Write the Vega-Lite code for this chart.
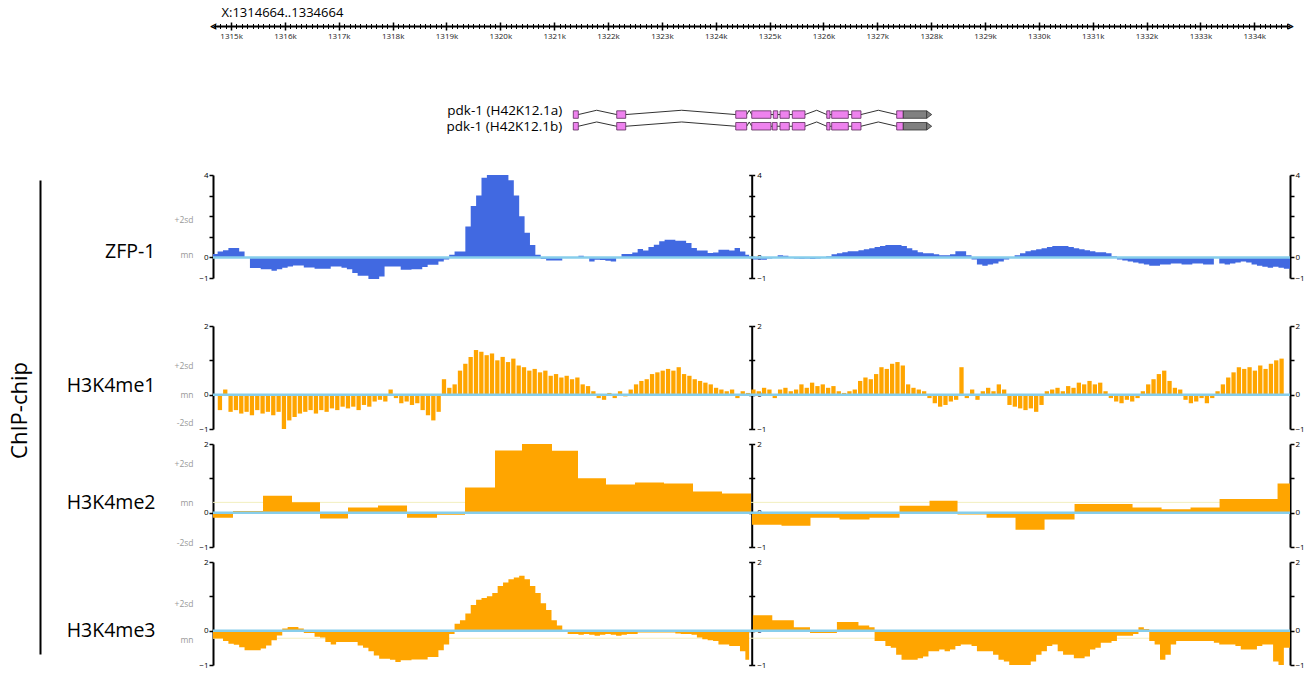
{
"$schema": "https://vega.github.io/schema/vega-lite/v6.json",
"padding": {"left": 8, "top": 6, "right": 5, "bottom": 5},
"autosize": {"type": "pad"},
"bounds": "flush",
"spacing": 15,
"config": {"view": {"stroke": null}, "font": "Open Sans", "axis": {"grid": false, "labelFont": "Open Sans", "titleFont": "Open Sans"}, "text": {"font": "Open Sans"}},
"datasets": {
"exons": [
{"tx":"a","s":1321.355,"e":1321.448},{"tx":"a","s":1322.161,"e":1322.328},{"tx":"a","s":1324.371,"e":1324.575},{"tx":"a","s":1324.668,"e":1325.026},{"tx":"a","s":1325.069,"e":1325.151},{"tx":"a","s":1325.193,"e":1325.366},{"tx":"a","s":1325.422,"e":1325.657},{"tx":"a","s":1326.061,"e":1326.122},{"tx":"a","s":1326.153,"e":1326.462},{"tx":"a","s":1326.525,"e":1326.697},{"tx":"a","s":1327.36,"e":1327.483},
{"tx":"b","s":1321.355,"e":1321.448},{"tx":"b","s":1322.161,"e":1322.328},{"tx":"b","s":1324.371,"e":1324.575},{"tx":"b","s":1324.668,"e":1325.026},{"tx":"b","s":1325.05,"e":1325.14},{"tx":"b","s":1325.193,"e":1325.366},{"tx":"b","s":1325.422,"e":1325.657},{"tx":"b","s":1326.061,"e":1326.122},{"tx":"b","s":1326.153,"e":1326.462},{"tx":"b","s":1326.525,"e":1326.697},{"tx":"b","s":1327.36,"e":1327.483}
],
"utr": [{"tx":"a","s":1327.483,"e":1327.917},{"tx":"b","s":1327.483,"e":1327.917}],
"tips": [{"tx":"a","pos":1327.964},{"tx":"b","pos":1327.964}],
"introns": [
{"tx":"a","s":1321.448,"p":1321.789,"e":1322.161},{"tx":"a","s":1322.328,"p":1323.368,"e":1324.371},{"tx":"a","s":1324.575,"p":1324.623,"e":1324.668},{"tx":"a","s":1325.657,"p":1325.875,"e":1326.061},{"tx":"a","s":1326.697,"p":1327.019,"e":1327.36},
{"tx":"b","s":1321.448,"p":1321.789,"e":1322.161},{"tx":"b","s":1322.328,"p":1323.368,"e":1324.371},{"tx":"b","s":1324.575,"p":1324.623,"e":1324.668},{"tx":"b","s":1325.657,"p":1325.875,"e":1326.061},{"tx":"b","s":1326.697,"p":1327.019,"e":1327.36}
],
"links": [
{"tx":"a","s":1325.026,"e":1325.069},{"tx":"a","s":1325.151,"e":1325.193},{"tx":"a","s":1325.366,"e":1325.422},{"tx":"a","s":1326.122,"e":1326.153},{"tx":"a","s":1326.462,"e":1326.525},
{"tx":"b","s":1325.026,"e":1325.05},{"tx":"b","s":1325.14,"e":1325.193},{"tx":"b","s":1325.366,"e":1325.422},{"tx":"b","s":1326.122,"e":1326.153},{"tx":"b","s":1326.462,"e":1326.525}
],
"zfp": [
{"pos":1314.664,"v":0.16},{"pos":1314.7,"v":0.16},{"pos":1314.8,"v":0.29},{"pos":1314.9,"v":0.35},{"pos":1315.0,"v":0.46},{"pos":1315.1,"v":0.46},{"pos":1315.2,"v":0.29},{"pos":1315.3,"v":0.0},{"pos":1315.4,"v":-0.52},{"pos":1315.5,"v":-0.52},{"pos":1315.6,"v":-0.57},{"pos":1315.7,"v":-0.57},{"pos":1315.8,"v":-0.65},{"pos":1315.9,"v":-0.57},{"pos":1316.0,"v":-0.5},{"pos":1316.1,"v":-0.44},{"pos":1316.2,"v":-0.39},{"pos":1316.3,"v":-0.39},{"pos":1316.4,"v":-0.49},{"pos":1316.5,"v":-0.49},{"pos":1316.6,"v":-0.55},{"pos":1316.7,"v":-0.55},{"pos":1316.8,"v":-0.55},{"pos":1316.9,"v":-0.44},{"pos":1317.0,"v":-0.44},{"pos":1317.1,"v":-0.5},{"pos":1317.2,"v":-0.57},{"pos":1317.3,"v":-0.76},{"pos":1317.4,"v":-0.89},{"pos":1317.5,"v":-0.89},{"pos":1317.6,"v":-1.05},{"pos":1317.7,"v":-1.05},{"pos":1317.8,"v":-0.93},{"pos":1317.9,"v":-0.44},{"pos":1318.0,"v":-0.44},{"pos":1318.1,"v":-0.44},{"pos":1318.2,"v":-0.6},{"pos":1318.3,"v":-0.6},{"pos":1318.4,"v":-0.57},{"pos":1318.5,"v":-0.57},{"pos":1318.6,"v":-0.47},{"pos":1318.7,"v":-0.36},{"pos":1318.8,"v":-0.36},{"pos":1318.9,"v":-0.2},{"pos":1319.0,"v":-0.1},{"pos":1319.1,"v":0.13},{"pos":1319.2,"v":0.29},{"pos":1319.3,"v":0.29},{"pos":1319.4,"v":1.5},{"pos":1319.5,"v":2.49},{"pos":1319.6,"v":3.0},{"pos":1319.7,"v":3.87},{"pos":1319.8,"v":4.0},{"pos":1319.9,"v":4.0},{"pos":1320.0,"v":4.0},{"pos":1320.1,"v":4.0},{"pos":1320.2,"v":3.75},{"pos":1320.3,"v":3.0},{"pos":1320.4,"v":2.0},{"pos":1320.5,"v":1.2},{"pos":1320.6,"v":0.6},{"pos":1320.7,"v":0.13},{"pos":1320.8,"v":-0.08},{"pos":1320.9,"v":-0.15},{"pos":1321.0,"v":-0.15},{"pos":1321.1,"v":-0.15},{"pos":1321.2,"v":0.0},{"pos":1321.3,"v":0.0},{"pos":1321.4,"v":0.02},{"pos":1321.5,"v":0.08},{"pos":1321.6,"v":-0.03},{"pos":1321.7,"v":-0.2},{"pos":1321.8,"v":-0.11},{"pos":1321.9,"v":-0.13},{"pos":1322.0,"v":-0.16},{"pos":1322.1,"v":-0.2},{"pos":1322.2,"v":0.0},{"pos":1322.3,"v":0.16},{"pos":1322.4,"v":0.16},{"pos":1322.5,"v":0.24},{"pos":1322.6,"v":0.41},{"pos":1322.7,"v":0.33},{"pos":1322.8,"v":0.5},{"pos":1322.9,"v":0.62},{"pos":1323.0,"v":0.78},{"pos":1323.1,"v":0.86},{"pos":1323.2,"v":0.86},{"pos":1323.3,"v":0.81},{"pos":1323.4,"v":0.81},{"pos":1323.5,"v":0.7},{"pos":1323.6,"v":0.46},{"pos":1323.7,"v":0.33},{"pos":1323.8,"v":0.33},{"pos":1323.9,"v":0.21},{"pos":1324.0,"v":0.24},{"pos":1324.1,"v":0.37},{"pos":1324.2,"v":0.37},{"pos":1324.3,"v":0.33},{"pos":1324.4,"v":0.46},{"pos":1324.5,"v":0.29},{"pos":1324.6,"v":0.13},{"pos":1324.64,"v":0},{"pos":1324.68,"v":0},
{"pos":1324.7,"v":-0.1},{"pos":1324.8,"v":-0.1},{"pos":1324.9,"v":-0.12},{"pos":1325.0,"v":-0.05},{"pos":1325.1,"v":0.0},{"pos":1325.2,"v":0.1},{"pos":1325.3,"v":0.08},{"pos":1325.4,"v":0.0},{"pos":1325.5,"v":-0.05},{"pos":1325.6,"v":-0.07},{"pos":1325.7,"v":-0.05},{"pos":1325.8,"v":-0.08},{"pos":1325.9,"v":-0.05},{"pos":1326.0,"v":0.0},{"pos":1326.1,"v":0.05},{"pos":1326.2,"v":0.15},{"pos":1326.3,"v":0.2},{"pos":1326.4,"v":0.25},{"pos":1326.5,"v":0.3},{"pos":1326.6,"v":0.3},{"pos":1326.7,"v":0.35},{"pos":1326.8,"v":0.4},{"pos":1326.9,"v":0.45},{"pos":1327.0,"v":0.5},{"pos":1327.1,"v":0.55},{"pos":1327.2,"v":0.6},{"pos":1327.3,"v":0.6},{"pos":1327.4,"v":0.6},{"pos":1327.5,"v":0.55},{"pos":1327.6,"v":0.45},{"pos":1327.7,"v":0.35},{"pos":1327.8,"v":0.25},{"pos":1327.9,"v":0.2},{"pos":1328.0,"v":0.2},{"pos":1328.1,"v":0.15},{"pos":1328.2,"v":0.1},{"pos":1328.3,"v":0.1},{"pos":1328.4,"v":0.15},{"pos":1328.5,"v":0.3},{"pos":1328.6,"v":0.3},{"pos":1328.7,"v":0.1},{"pos":1328.8,"v":-0.1},{"pos":1328.9,"v":-0.35},{"pos":1329.0,"v":-0.4},{"pos":1329.1,"v":-0.35},{"pos":1329.2,"v":-0.3},{"pos":1329.3,"v":-0.2},{"pos":1329.4,"v":-0.1},{"pos":1329.5,"v":0.0},{"pos":1329.6,"v":0.1},{"pos":1329.7,"v":0.2},{"pos":1329.8,"v":0.3},{"pos":1329.9,"v":0.35},{"pos":1330.0,"v":0.4},{"pos":1330.1,"v":0.45},{"pos":1330.2,"v":0.5},{"pos":1330.3,"v":0.55},{"pos":1330.4,"v":0.55},{"pos":1330.5,"v":0.55},{"pos":1330.6,"v":0.5},{"pos":1330.7,"v":0.45},{"pos":1330.8,"v":0.4},{"pos":1330.9,"v":0.35},{"pos":1331.0,"v":0.3},{"pos":1331.1,"v":0.25},{"pos":1331.2,"v":0.25},{"pos":1331.3,"v":0.2},{"pos":1331.4,"v":0.05},{"pos":1331.5,"v":-0.1},{"pos":1331.6,"v":-0.15},{"pos":1331.7,"v":-0.2},{"pos":1331.8,"v":-0.25},{"pos":1331.9,"v":-0.3},{"pos":1332.0,"v":-0.35},{"pos":1332.1,"v":-0.4},{"pos":1332.2,"v":-0.4},{"pos":1332.3,"v":-0.35},{"pos":1332.4,"v":-0.35},{"pos":1332.5,"v":-0.3},{"pos":1332.6,"v":-0.3},{"pos":1332.7,"v":-0.35},{"pos":1332.8,"v":-0.35},{"pos":1332.9,"v":-0.3},{"pos":1333.0,"v":-0.3},{"pos":1333.1,"v":-0.35},{"pos":1333.2,"v":-0.35},{"pos":1333.3,"v":0.0},{"pos":1333.4,"v":-0.3},{"pos":1333.5,"v":-0.35},{"pos":1333.6,"v":-0.3},{"pos":1333.7,"v":-0.25},{"pos":1333.8,"v":-0.2},{"pos":1333.9,"v":-0.25},{"pos":1334.0,"v":-0.35},{"pos":1334.1,"v":-0.4},{"pos":1334.2,"v":-0.45},{"pos":1334.3,"v":-0.5},{"pos":1334.4,"v":-0.45},{"pos":1334.5,"v":-0.5},{"pos":1334.6,"v":-0.55},{"pos":1334.664,"v":-0.55}
],
"me1": [
{"pos":1314.7,"v":-0.45},{"pos":1314.8,"v":0.15},{"pos":1314.9,"v":-0.5},{"pos":1315.0,"v":-0.45},{"pos":1315.1,"v":-0.55},{"pos":1315.2,"v":-0.5},{"pos":1315.3,"v":-0.6},{"pos":1315.4,"v":-0.45},{"pos":1315.5,"v":-0.55},{"pos":1315.6,"v":-0.5},{"pos":1315.7,"v":-0.6},{"pos":1315.8,"v":-0.5},{"pos":1315.9,"v":-1.0},{"pos":1316.0,"v":-0.75},{"pos":1316.1,"v":-0.65},{"pos":1316.2,"v":-0.55},{"pos":1316.3,"v":-0.5},{"pos":1316.4,"v":-0.45},{"pos":1316.5,"v":-0.55},{"pos":1316.6,"v":-0.45},{"pos":1316.7,"v":-0.5},{"pos":1316.8,"v":-0.4},{"pos":1316.9,"v":-0.45},{"pos":1317.0,"v":-0.35},{"pos":1317.1,"v":-0.4},{"pos":1317.2,"v":-0.35},{"pos":1317.3,"v":-0.45},{"pos":1317.4,"v":-0.3},{"pos":1317.5,"v":-0.35},{"pos":1317.6,"v":-0.2},{"pos":1317.7,"v":-0.15},{"pos":1317.8,"v":-0.2},{"pos":1317.9,"v":0.15},{"pos":1318.0,"v":-0.1},{"pos":1318.1,"v":-0.25},{"pos":1318.2,"v":-0.2},{"pos":1318.3,"v":-0.3},{"pos":1318.4,"v":-0.25},{"pos":1318.5,"v":-0.45},{"pos":1318.6,"v":-0.6},{"pos":1318.7,"v":-0.75},{"pos":1318.8,"v":-0.5},{"pos":1318.9,"v":0.45},{"pos":1319.0,"v":0.2},{"pos":1319.1,"v":0.3},{"pos":1319.2,"v":0.7},{"pos":1319.3,"v":0.9},{"pos":1319.4,"v":1.1},{"pos":1319.5,"v":1.3},{"pos":1319.6,"v":1.25},{"pos":1319.7,"v":1.15},{"pos":1319.8,"v":1.2},{"pos":1319.9,"v":1.0},{"pos":1320.0,"v":1.1},{"pos":1320.1,"v":0.95},{"pos":1320.2,"v":1.05},{"pos":1320.3,"v":0.85},{"pos":1320.4,"v":0.8},{"pos":1320.5,"v":0.7},{"pos":1320.6,"v":0.75},{"pos":1320.7,"v":0.65},{"pos":1320.8,"v":0.7},{"pos":1320.9,"v":0.55},{"pos":1321.0,"v":0.6},{"pos":1321.1,"v":0.5},{"pos":1321.2,"v":0.55},{"pos":1321.3,"v":0.45},{"pos":1321.4,"v":0.5},{"pos":1321.5,"v":0.3},{"pos":1321.6,"v":0.25},{"pos":1321.7,"v":0.1},{"pos":1321.8,"v":-0.1},{"pos":1321.9,"v":-0.15},{"pos":1322.0,"v":0.05},{"pos":1322.1,"v":-0.1},{"pos":1322.2,"v":0.1},{"pos":1322.3,"v":-0.05},{"pos":1322.4,"v":0.15},{"pos":1322.5,"v":0.3},{"pos":1322.6,"v":0.4},{"pos":1322.7,"v":0.45},{"pos":1322.8,"v":0.6},{"pos":1322.9,"v":0.65},{"pos":1323.0,"v":0.7},{"pos":1323.1,"v":0.75},{"pos":1323.2,"v":0.7},{"pos":1323.3,"v":0.8},{"pos":1323.4,"v":0.6},{"pos":1323.5,"v":0.55},{"pos":1323.6,"v":0.45},{"pos":1323.7,"v":0.4},{"pos":1323.8,"v":0.35},{"pos":1323.9,"v":0.3},{"pos":1324.0,"v":0.2},{"pos":1324.1,"v":0.15},{"pos":1324.2,"v":0.1},{"pos":1324.3,"v":0.15},{"pos":1324.4,"v":-0.1},{"pos":1324.5,"v":0.1},{"pos":1324.6,"v":0.05},
{"pos":1324.7,"v":0.15},{"pos":1324.8,"v":0.1},{"pos":1324.9,"v":0.2},{"pos":1325.0,"v":0.15},{"pos":1325.1,"v":-0.1},{"pos":1325.2,"v":0.15},{"pos":1325.3,"v":0.2},{"pos":1325.4,"v":0.1},{"pos":1325.5,"v":0.15},{"pos":1325.6,"v":0.3},{"pos":1325.7,"v":0.2},{"pos":1325.8,"v":0.35},{"pos":1325.9,"v":0.25},{"pos":1326.0,"v":0.3},{"pos":1326.1,"v":0.2},{"pos":1326.2,"v":0.25},{"pos":1326.3,"v":0.1},{"pos":1326.4,"v":0.05},{"pos":1326.5,"v":0.1},{"pos":1326.6,"v":0.15},{"pos":1326.7,"v":0.4},{"pos":1326.8,"v":0.5},{"pos":1326.9,"v":0.45},{"pos":1327.0,"v":0.6},{"pos":1327.1,"v":0.8},{"pos":1327.2,"v":0.75},{"pos":1327.3,"v":0.9},{"pos":1327.4,"v":0.95},{"pos":1327.5,"v":0.85},{"pos":1327.6,"v":0.3},{"pos":1327.7,"v":0.2},{"pos":1327.8,"v":0.15},{"pos":1327.9,"v":0.1},{"pos":1328.0,"v":-0.1},{"pos":1328.1,"v":-0.25},{"pos":1328.2,"v":-0.35},{"pos":1328.3,"v":-0.3},{"pos":1328.4,"v":-0.2},{"pos":1328.5,"v":-0.15},{"pos":1328.6,"v":0.8},{"pos":1328.7,"v":-0.1},{"pos":1328.8,"v":0.15},{"pos":1328.9,"v":-0.15},{"pos":1329.0,"v":0.1},{"pos":1329.1,"v":0.2},{"pos":1329.2,"v":0.1},{"pos":1329.3,"v":0.3},{"pos":1329.4,"v":0.15},{"pos":1329.5,"v":-0.3},{"pos":1329.6,"v":-0.35},{"pos":1329.7,"v":-0.4},{"pos":1329.8,"v":-0.45},{"pos":1329.9,"v":-0.4},{"pos":1330.0,"v":-0.5},{"pos":1330.1,"v":-0.3},{"pos":1330.2,"v":0.1},{"pos":1330.3,"v":0.15},{"pos":1330.4,"v":0.2},{"pos":1330.5,"v":0.1},{"pos":1330.6,"v":0.25},{"pos":1330.7,"v":0.2},{"pos":1330.8,"v":0.35},{"pos":1330.9,"v":0.3},{"pos":1331.0,"v":0.4},{"pos":1331.1,"v":0.3},{"pos":1331.2,"v":0.35},{"pos":1331.3,"v":0.1},{"pos":1331.4,"v":-0.1},{"pos":1331.5,"v":-0.2},{"pos":1331.6,"v":-0.25},{"pos":1331.7,"v":-0.15},{"pos":1331.8,"v":-0.2},{"pos":1331.9,"v":-0.1},{"pos":1332.0,"v":0.1},{"pos":1332.1,"v":0.3},{"pos":1332.2,"v":0.45},{"pos":1332.3,"v":0.6},{"pos":1332.4,"v":0.7},{"pos":1332.5,"v":0.4},{"pos":1332.6,"v":0.2},{"pos":1332.7,"v":0.15},{"pos":1332.8,"v":-0.15},{"pos":1332.9,"v":-0.25},{"pos":1333.0,"v":-0.2},{"pos":1333.1,"v":-0.1},{"pos":1333.2,"v":-0.25},{"pos":1333.3,"v":-0.1},{"pos":1333.4,"v":0.1},{"pos":1333.5,"v":0.3},{"pos":1333.6,"v":0.5},{"pos":1333.7,"v":0.65},{"pos":1333.8,"v":0.8},{"pos":1333.9,"v":0.75},{"pos":1334.0,"v":0.8},{"pos":1334.1,"v":0.7},{"pos":1334.2,"v":0.85},{"pos":1334.3,"v":0.75},{"pos":1334.4,"v":0.9},{"pos":1334.5,"v":1.0},{"pos":1334.6,"v":1.05}
],
"me2": [
{"pos":1314.664,"v":-0.15},{"pos":1315.035,"v":0.05},{"pos":1315.593,"v":0.49},{"pos":1316.131,"v":0.3},{"pos":1316.651,"v":-0.17},{"pos":1317.171,"v":0.15},{"pos":1317.728,"v":0.21},{"pos":1318.267,"v":-0.15},{"pos":1318.824,"v":-0.06},{"pos":1319.344,"v":0.73},{"pos":1319.901,"v":1.81},{"pos":1320.402,"v":2.0},{"pos":1320.959,"v":1.8},{"pos":1321.442,"v":1.0},{"pos":1321.962,"v":0.82},{"pos":1322.5,"v":0.88},{"pos":1323.039,"v":0.85},{"pos":1323.578,"v":0.62},{"pos":1324.116,"v":0.56},{"pos":1324.655,"v":0},{"pos":1324.673,"v":-0.35},{"pos":1325.221,"v":-0.38},{"pos":1325.759,"v":-0.15},{"pos":1326.298,"v":-0.2},{"pos":1326.855,"v":-0.15},{"pos":1327.413,"v":0.2},{"pos":1327.97,"v":0.35},{"pos":1328.49,"v":-0.05},{"pos":1329.029,"v":-0.15},{"pos":1329.567,"v":-0.5},{"pos":1330.106,"v":-0.2},{"pos":1330.663,"v":0.25},{"pos":1331.202,"v":0.25},{"pos":1331.74,"v":0.15},{"pos":1332.279,"v":0.1},{"pos":1332.817,"v":0.15},{"pos":1333.356,"v":0.4},{"pos":1333.895,"v":0.4},{"pos":1334.433,"v":0.85},{"pos":1334.664,"v":0.85}
],
"me3": [
{"pos":1314.664,"v":-0.23},{"pos":1314.7,"v":-0.23},{"pos":1314.8,"v":-0.23},{"pos":1314.9,"v":-0.3},{"pos":1315.0,"v":-0.38},{"pos":1315.1,"v":-0.41},{"pos":1315.2,"v":-0.48},{"pos":1315.3,"v":-0.57},{"pos":1315.4,"v":-0.57},{"pos":1315.5,"v":-0.57},{"pos":1315.6,"v":-0.52},{"pos":1315.7,"v":-0.43},{"pos":1315.8,"v":-0.28},{"pos":1315.9,"v":-0.14},{"pos":1316.0,"v":0.06},{"pos":1316.1,"v":0.11},{"pos":1316.2,"v":0.11},{"pos":1316.3,"v":0.06},{"pos":1316.4,"v":-0.07},{"pos":1316.5,"v":-0.07},{"pos":1316.6,"v":-0.18},{"pos":1316.7,"v":-0.2},{"pos":1316.8,"v":-0.33},{"pos":1316.9,"v":-0.4},{"pos":1317.0,"v":-0.33},{"pos":1317.1,"v":-0.33},{"pos":1317.2,"v":-0.33},{"pos":1317.3,"v":-0.33},{"pos":1317.4,"v":-0.43},{"pos":1317.5,"v":-0.5},{"pos":1317.6,"v":-0.6},{"pos":1317.7,"v":-0.72},{"pos":1317.8,"v":-0.82},{"pos":1317.9,"v":-0.82},{"pos":1318.0,"v":-0.85},{"pos":1318.1,"v":-0.91},{"pos":1318.2,"v":-0.86},{"pos":1318.3,"v":-0.86},{"pos":1318.4,"v":-0.84},{"pos":1318.5,"v":-0.84},{"pos":1318.6,"v":-0.84},{"pos":1318.7,"v":-0.77},{"pos":1318.8,"v":-0.77},{"pos":1318.9,"v":-0.57},{"pos":1319.0,"v":-0.4},{"pos":1319.1,"v":-0.1},{"pos":1319.2,"v":0.2},{"pos":1319.3,"v":0.3},{"pos":1319.4,"v":0.5},{"pos":1319.5,"v":0.75},{"pos":1319.6,"v":0.9},{"pos":1319.7,"v":0.95},{"pos":1319.8,"v":1.0},{"pos":1319.9,"v":1.1},{"pos":1320.0,"v":1.3},{"pos":1320.1,"v":1.4},{"pos":1320.2,"v":1.5},{"pos":1320.3,"v":1.55},{"pos":1320.4,"v":1.6},{"pos":1320.5,"v":1.5},{"pos":1320.6,"v":1.3},{"pos":1320.7,"v":1.1},{"pos":1320.8,"v":0.8},{"pos":1320.9,"v":0.6},{"pos":1321.0,"v":0.3},{"pos":1321.1,"v":0.15},{"pos":1321.2,"v":0.0},{"pos":1321.3,"v":-0.1},{"pos":1321.4,"v":-0.1},{"pos":1321.5,"v":-0.12},{"pos":1321.6,"v":-0.1},{"pos":1321.7,"v":-0.12},{"pos":1321.8,"v":-0.15},{"pos":1321.9,"v":-0.12},{"pos":1322.0,"v":-0.1},{"pos":1322.1,"v":-0.12},{"pos":1322.2,"v":-0.15},{"pos":1322.3,"v":-0.12},{"pos":1322.4,"v":-0.1},{"pos":1322.5,"v":-0.1},{"pos":1322.6,"v":-0.05},{"pos":1322.7,"v":-0.05},{"pos":1322.8,"v":-0.05},{"pos":1322.9,"v":-0.05},{"pos":1323.0,"v":-0.05},{"pos":1323.1,"v":-0.05},{"pos":1323.2,"v":-0.05},{"pos":1323.3,"v":-0.08},{"pos":1323.4,"v":-0.1},{"pos":1323.5,"v":-0.1},{"pos":1323.6,"v":-0.12},{"pos":1323.7,"v":-0.2},{"pos":1323.8,"v":-0.25},{"pos":1323.9,"v":-0.28},{"pos":1324.0,"v":-0.3},{"pos":1324.1,"v":-0.4},{"pos":1324.2,"v":-0.4},{"pos":1324.3,"v":-0.45},{"pos":1324.4,"v":-0.45},{"pos":1324.5,"v":-0.6},{"pos":1324.6,"v":-0.85},{"pos":1324.64,"v":0},{"pos":1324.68,"v":0},
{"pos":1324.7,"v":0.45},{"pos":1324.8,"v":0.45},{"pos":1324.9,"v":0.45},{"pos":1325.0,"v":0.45},{"pos":1325.1,"v":0.3},{"pos":1325.2,"v":0.3},{"pos":1325.3,"v":0.3},{"pos":1325.4,"v":0.3},{"pos":1325.5,"v":0.1},{"pos":1325.6,"v":0.1},{"pos":1325.7,"v":0.1},{"pos":1325.8,"v":-0.07},{"pos":1325.9,"v":-0.07},{"pos":1326.0,"v":-0.07},{"pos":1326.1,"v":-0.07},{"pos":1326.2,"v":-0.07},{"pos":1326.3,"v":0.25},{"pos":1326.4,"v":0.25},{"pos":1326.5,"v":0.25},{"pos":1326.6,"v":0.25},{"pos":1326.7,"v":0.15},{"pos":1326.8,"v":0.15},{"pos":1326.9,"v":0.1},{"pos":1327.0,"v":-0.3},{"pos":1327.1,"v":-0.3},{"pos":1327.2,"v":-0.45},{"pos":1327.3,"v":-0.5},{"pos":1327.4,"v":-0.7},{"pos":1327.5,"v":-0.85},{"pos":1327.6,"v":-0.85},{"pos":1327.7,"v":-0.85},{"pos":1327.8,"v":-0.8},{"pos":1327.9,"v":-0.75},{"pos":1328.0,"v":-0.6},{"pos":1328.1,"v":-0.6},{"pos":1328.2,"v":-0.55},{"pos":1328.3,"v":-0.6},{"pos":1328.4,"v":-0.55},{"pos":1328.5,"v":-0.45},{"pos":1328.6,"v":-0.4},{"pos":1328.7,"v":-0.4},{"pos":1328.8,"v":-0.45},{"pos":1328.9,"v":-0.6},{"pos":1329.0,"v":-0.6},{"pos":1329.1,"v":-0.6},{"pos":1329.2,"v":-0.7},{"pos":1329.3,"v":-0.85},{"pos":1329.4,"v":-0.9},{"pos":1329.5,"v":-1.0},{"pos":1329.6,"v":-1.0},{"pos":1329.7,"v":-1.0},{"pos":1329.8,"v":-1.0},{"pos":1329.9,"v":-0.9},{"pos":1330.0,"v":-0.7},{"pos":1330.1,"v":-0.6},{"pos":1330.2,"v":-0.45},{"pos":1330.3,"v":-0.4},{"pos":1330.4,"v":-0.6},{"pos":1330.5,"v":-0.7},{"pos":1330.6,"v":-0.7},{"pos":1330.7,"v":-0.8},{"pos":1330.8,"v":-0.8},{"pos":1330.9,"v":-0.75},{"pos":1331.0,"v":-0.55},{"pos":1331.1,"v":-0.5},{"pos":1331.2,"v":-0.35},{"pos":1331.3,"v":-0.35},{"pos":1331.4,"v":-0.3},{"pos":1331.5,"v":-0.15},{"pos":1331.6,"v":-0.15},{"pos":1331.7,"v":-0.15},{"pos":1331.8,"v":-0.1},{"pos":1331.9,"v":0.1},{"pos":1332.0,"v":0.05},{"pos":1332.1,"v":-0.3},{"pos":1332.2,"v":-0.4},{"pos":1332.3,"v":-0.85},{"pos":1332.4,"v":-0.7},{"pos":1332.5,"v":-0.4},{"pos":1332.6,"v":-0.3},{"pos":1332.7,"v":-0.3},{"pos":1332.8,"v":-0.3},{"pos":1332.9,"v":-0.3},{"pos":1333.0,"v":-0.3},{"pos":1333.1,"v":-0.3},{"pos":1333.2,"v":-0.3},{"pos":1333.3,"v":-0.35},{"pos":1333.4,"v":-0.4},{"pos":1333.5,"v":-0.4},{"pos":1333.6,"v":-0.4},{"pos":1333.7,"v":-0.45},{"pos":1333.8,"v":-0.55},{"pos":1333.9,"v":-0.55},{"pos":1334.0,"v":-0.55},{"pos":1334.1,"v":-0.45},{"pos":1334.2,"v":-0.4},{"pos":1334.3,"v":-0.4},{"pos":1334.4,"v":-0.9},{"pos":1334.5,"v":-1.0},{"pos":1334.6,"v":-0.5},{"pos":1334.664,"v":-0.5}
]
},
"vconcat": [
{
"width": 1077, "height": 24,
"layer": [
 {"data": {"name":"introns"},
  "mark": {"type":"rule","stroke":"#333","strokeWidth":1,"y2Offset":-4.3},
  "encoding": {
   "x": {"field":"s","type":"quantitative","scale":{"domain":[1314.664,1334.664],"nice":false,"zero":false},
         "axis":{"orient":"top","offset":80,"tickCount":20,"labelExpr":"datum.value + 'k'","tickSize":4,"tickWidth":1.5,"tickColor":"#000","domainColor":"#000","domainWidth":2,"labelBaseline":"top","labelPadding":-10,"labelFontSize":8,"labelColor":"#222","labelFlush":false,"labelOverlap":false,"title":"X:1314664..1334664","titleX":8,"titleY":-14,"titleAlign":"left","titleBaseline":"middle","titleAngle":0,"titleFontSize":13,"titleFontWeight":"normal","titleColor":"#000"}},
   "x2": {"field":"p"},
   "y": {"field":"tx","type":"nominal","scale":{"domain":["a","b"],"paddingInner":0.36,"paddingOuter":0.206,"align":1},"axis":null},
   "y2": {"field":"tx"}
  }},
 {"data": {"name":"introns"},
  "mark": {"type":"rule","stroke":"#333","strokeWidth":1,"yOffset":-4.3},
  "encoding": {
   "x": {"field":"p","type":"quantitative","scale":{"domain":[1314.664,1334.664],"nice":false,"zero":false},
         "axis":{"orient":"top","offset":80,"tickCount":20,"tickSize":-4,"tickWidth":1.5,"tickColor":"#000","domain":false,"labels":false,"title":null}},
   "x2": {"field":"e"},
   "y": {"field":"tx","type":"nominal","scale":{"domain":["a","b"],"paddingInner":0.36,"paddingOuter":0.206,"align":1},"axis":null},
   "y2": {"field":"tx"}
  }},
 {"data": {"name":"links"},
  "mark": {"type":"rule","stroke":"#333","strokeWidth":1},
  "encoding": {
   "x": {"field":"s","type":"quantitative","scale":{"domain":[1314.664,1334.664],"nice":false,"zero":false},
         "axis":{"orient":"top","offset":80,"tickCount":200,"tickSize":2.5,"tickWidth":1,"tickColor":"#000","domain":false,"labels":false,"title":null}},
   "x2": {"field":"e"},
   "y": {"field":"tx","type":"nominal","scale":{"domain":["a","b"],"paddingInner":0.36,"paddingOuter":0.206,"align":1},"axis":null}
  }},
 {"data": {"name":"exons"},
  "mark": {"type":"bar","fill":"#EE82EE","stroke":"#5a2a5a","strokeWidth":0.8},
  "encoding": {
   "x": {"field":"s","type":"quantitative","scale":{"domain":[1314.664,1334.664],"nice":false,"zero":false},
         "axis":{"orient":"top","offset":80,"tickCount":200,"tickSize":-2.5,"tickWidth":1,"tickColor":"#000","domain":false,"labels":false,"title":null}},
   "x2": {"field":"e"},
   "y": {"field":"tx","type":"nominal","scale":{"domain":["a","b"],"paddingInner":0.36,"paddingOuter":0.206,"align":1},"axis":null}
  }},
 {"data": {"name":"utr"},
  "mark": {"type":"bar","fill":"#808080","stroke":"#333","strokeWidth":0.8},
  "encoding": {
   "x": {"field":"s","type":"quantitative","scale":{"domain":[1314.664,1334.664],"nice":false,"zero":false},
         "axis":{"orient":"top","offset":80,"values":[1314.664,1334.664],"labelExpr":"datum.value < 1320 ? '<' : '>'","ticks":false,"tickSize":0,"domain":false,"labelBaseline":"middle","labelPadding":0,"labelFontSize":12,"labelFontWeight":"bold","labelColor":"#000","labelFlush":false,"labelOverlap":false,"title":null}},
   "x2": {"field":"e"},
   "y": {"field":"tx","type":"nominal","scale":{"domain":["a","b"],"paddingInner":0.36,"paddingOuter":0.206,"align":1},"axis":null}
  }},
 {"data": {"name":"tips"},
  "mark": {"type":"point","shape":"M -0.67 -1 L 0.67 0 L -0.67 1 Z","size":56,"filled":true,"fill":"#808080","stroke":"#333","strokeWidth":0.8,"opacity":1},
  "encoding": {
   "x": {"field":"pos","type":"quantitative","scale":{"domain":[1314.664,1334.664],"nice":false,"zero":false},"axis":null},
   "y": {"field":"tx","type":"nominal","scale":{"domain":["a","b"],"paddingInner":0.36,"paddingOuter":0.206,"align":1},"axis":null}
  }},
 {"data": {"values": [{"tx":"a","pos":1321.355,"label":"pdk-1 (H42K12.1a)"}]},
  "mark": {"type":"text","align":"right","baseline":"middle","dx":-11,"dy":-4,"fontSize":13.5,"color":"#000"},
  "encoding": {
   "x": {"field":"pos","type":"quantitative","scale":{"domain":[1314.664,1334.664],"nice":false,"zero":false},"axis":null},
   "y": {"field":"tx","type":"nominal","scale":{"domain":["a","b"],"paddingInner":0.36,"paddingOuter":0.206,"align":1},"axis":null},
   "text": {"field":"label"}
  }},
 {"data": {"values": [{"tx":"b","pos":1321.355,"label":"pdk-1 (H42K12.1b)"}]},
  "mark": {"type":"text","align":"right","baseline":"middle","dx":-11,"dy":1,"fontSize":13.5,"color":"#000"},
  "encoding": {
   "x": {"field":"pos","type":"quantitative","scale":{"domain":[1314.664,1334.664],"nice":false,"zero":false},"axis":null},
   "y": {"field":"tx","type":"nominal","scale":{"domain":["a","b"],"paddingInner":0.36,"paddingOuter":0.206,"align":1},"axis":null},
   "text": {"field":"label"}
  }}
],
"resolve": {"axis": {"x": "independent"}}
},
{
"width": 1077, "height": 166,
"layer": [
 {"data": {"values": [{}]}, "mark": {"type":"rule","opacity":0},
  "encoding": {"y": {"datum":0.13,"type":"quantitative","scale":{"domain":[-1,4],"range":[133,30],"nice":false},
   "axis":{"orient":"left","values":[1.85,0.13],"labelExpr":"datum.value > 1 ? '+2sd' : 'mn'","domain":false,"ticks":false,"tickSize":0,"labelPadding":20,"labelFontSize":8.5,"labelColor":"#999","labelFlush":false,"labelOverlap":false,"title":null}}}},
 {"data": {"name":"zfp"}, "mark": {"type":"area","interpolate":"step","color":"#4169E1","clip":true},
  "encoding": {
   "x": {"field":"pos","type":"quantitative","scale":{"domain":[1314.664,1334.664],"nice":false,"zero":false},"axis":null},
   "y": {"field":"v","type":"quantitative","scale":{"domain":[-1,4],"range":[133,30],"nice":false},
    "axis":{"orient":"left","values":[-1,0,1,2,3,4],"labelExpr":"datum.value==1||datum.value==2||datum.value==3 ? '' : datum.label","domainColor":"#000","domainWidth":2,"tickColor":"#000","tickWidth":1.5,"tickSize":4,"labelFontSize":8,"labelColor":"#000","labelPadding":1,"labelFlush":false,"labelOverlap":false,"title":"ZFP-1","titleAngle":0,"titleAlign":"right","titleBaseline":"middle","titleX":-58,"titleY":106,"titleFontSize":19.5,"titleFontWeight":"normal","titleColor":"#000"}},
   "y2": {"datum":0}
  }},
 {"data": {"values": [{}]}, "mark": {"type":"rule","stroke":"#87CEEB","strokeWidth":2.5},
  "encoding": {"y": {"datum":0,"type":"quantitative","scale":{"domain":[-1,4],"range":[133,30],"nice":false},
   "axis":{"orient":"right","values":[-1,0,1,2,3,4],"labelExpr":"datum.value==1||datum.value==2||datum.value==3 ? '' : datum.label","domainColor":"#000","domainWidth":2,"tickColor":"#000","tickWidth":1.5,"tickSize":4,"labelFontSize":8,"labelColor":"#000","labelPadding":1,"labelFlush":false,"labelOverlap":false,"title":null}}}},
 {"data": {"values": [{}]}, "mark": {"type":"rule","opacity":0},
  "encoding": {"y": {"datum":0,"type":"quantitative","scale":{"domain":[-1,4],"range":[133,30],"nice":false},
   "axis":{"orient":"right","offset":-538.3,"values":[-1,0,1,2,3,4],"labelExpr":"datum.value==1||datum.value==2||datum.value==3 ? '' : datum.label","domainColor":"#000","domainWidth":2,"tickColor":"#000","tickWidth":1.5,"tickSize":3,"labelFontSize":8,"labelColor":"#000","labelPadding":2,"labelFlush":false,"labelOverlap":false,"title":null}}}},
 {"data": {"values": [{}]}, "mark": {"type":"rule","opacity":0},
  "encoding": {"y": {"datum":0,"type":"quantitative","scale":{"domain":[-1,4],"range":[133,30],"nice":false},
   "axis":{"orient":"left","offset":-538.7,"values":[-1,0,1,2,3,4],"labels":false,"domain":false,"tickColor":"#000","tickWidth":1.5,"tickSize":3,"title":null}}}},
 {"data": {"values": [{}]}, "mark": {"type":"rule","opacity":0},
  "encoding": {"y": {"datum":0.5,"type":"quantitative","scale":{"domain":[0,1],"range":[509,35],"nice":false},
   "axis":{"orient":"left","offset":173,"domainColor":"#000","domainWidth":2,"ticks":false,"labels":false,"title":"ChIP-chip","titleAngle":-90,"titleX":-21,"titleY":265,"titleAlign":"center","titleBaseline":"middle","titleFontSize":22,"titleFontWeight":"normal","titleColor":"#000"}}}}
],
"resolve": {"scale": {"y": "independent"}}
},
{
"width": 1077, "height": 103,
"layer": [
 {"data": {"values": [{}]}, "mark": {"type":"rule","opacity":0},
  "encoding": {"y": {"datum":0,"type":"quantitative",
   "axis":{"orient":"left","values":[0.86,0,-0.8],"labelExpr":"datum.value > 0.5 ? '+2sd' : (datum.value < -0.5 ? '-2sd' : 'mn')","domain":false,"ticks":false,"tickSize":0,"labelPadding":20,"labelFontSize":8.5,"labelColor":"#999","labelFlush":false,"labelOverlap":false,"title":null}}}},
 {"data": {"name":"me1"}, "mark": {"type":"bar","width":4.3,"color":"#FFA500","clip":true},
  "encoding": {
   "x": {"field":"pos","type":"quantitative","scale":{"domain":[1314.664,1334.664],"nice":false,"zero":false},"axis":null},
   "y": {"field":"v","type":"quantitative","scale":{"domain":[-1,2],"nice":false,"zero":false},
    "axis":{"orient":"left","values":[-1,0,1,2],"labelExpr":"datum.value==1 ? '' : datum.label","domainColor":"#000","domainWidth":2,"tickColor":"#000","tickWidth":1.5,"tickSize":4,"labelFontSize":8,"labelColor":"#000","labelPadding":1,"labelFlush":false,"labelOverlap":false,"title":"H3K4me1","titleAngle":0,"titleAlign":"right","titleBaseline":"middle","titleX":-58,"titleY":59,"titleFontSize":19.5,"titleFontWeight":"normal","titleColor":"#000"}},
   "y2": {"datum":0}
  }},
 {"data": {"values": [{}]}, "mark": {"type":"rule","stroke":"#87CEEB","strokeWidth":2.5},
  "encoding": {"y": {"datum":0,"type":"quantitative",
   "axis":{"orient":"right","values":[-1,0,1,2],"labelExpr":"datum.value==1 ? '' : datum.label","domainColor":"#000","domainWidth":2,"tickColor":"#000","tickWidth":1.5,"tickSize":4,"labelFontSize":8,"labelColor":"#000","labelPadding":1,"labelFlush":false,"labelOverlap":false,"title":null}}}},
 {"data": {"values": [{}]}, "mark": {"type":"rule","opacity":0},
  "encoding": {"y": {"datum":0,"type":"quantitative",
   "axis":{"orient":"right","offset":-538.3,"values":[-1,0,1,2],"labelExpr":"datum.value==1 ? '' : datum.label","domainColor":"#000","domainWidth":2,"tickColor":"#000","tickWidth":1.5,"tickSize":3,"labelFontSize":8,"labelColor":"#000","labelPadding":2,"labelFlush":false,"labelOverlap":false,"title":null}}}},
 {"data": {"values": [{}]}, "mark": {"type":"rule","opacity":0},
  "encoding": {"y": {"datum":0,"type":"quantitative",
   "axis":{"orient":"left","offset":-538.7,"values":[-1,0,1,2],"labels":false,"domain":false,"tickColor":"#000","tickWidth":1.5,"tickSize":3,"title":null}}}}
],
"resolve": {"axis": {"y": "independent"}}
},
{
"width": 1077, "height": 103,
"layer": [
 {"data": {"values": [{}]}, "mark": {"type":"rule","stroke":"#f2efbf","strokeWidth":1},
  "encoding": {"y": {"datum":0.3,"type":"quantitative",
   "axis":{"orient":"left","values":[1.43,0.29,-0.86],"labelExpr":"datum.value > 1 ? '+2sd' : (datum.value < -0.5 ? '-2sd' : 'mn')","domain":false,"ticks":false,"tickSize":0,"labelPadding":20,"labelFontSize":8.5,"labelColor":"#999","labelFlush":false,"labelOverlap":false,"title":null}}}},
 {"data": {"name":"me2"}, "mark": {"type":"area","interpolate":"step-after","color":"#FFA500","clip":true},
  "encoding": {
   "x": {"field":"pos","type":"quantitative","scale":{"domain":[1314.664,1334.664],"nice":false,"zero":false},"axis":null},
   "y": {"field":"v","type":"quantitative","scale":{"domain":[-1,2],"nice":false,"zero":false},
    "axis":{"orient":"left","values":[-1,0,1,2],"labelExpr":"datum.value==1 ? '' : datum.label","domainColor":"#000","domainWidth":2,"tickColor":"#000","tickWidth":1.5,"tickSize":4,"labelFontSize":8,"labelColor":"#000","labelPadding":1,"labelFlush":false,"labelOverlap":false,"title":"H3K4me2","titleAngle":0,"titleAlign":"right","titleBaseline":"middle","titleX":-58,"titleY":58,"titleFontSize":19.5,"titleFontWeight":"normal","titleColor":"#000"}},
   "y2": {"datum":0}
  }},
 {"data": {"values": [{}]}, "mark": {"type":"rule","stroke":"#87CEEB","strokeWidth":2.5},
  "encoding": {"y": {"datum":0,"type":"quantitative",
   "axis":{"orient":"right","values":[-1,0,1,2],"labelExpr":"datum.value==1 ? '' : datum.label","domainColor":"#000","domainWidth":2,"tickColor":"#000","tickWidth":1.5,"tickSize":4,"labelFontSize":8,"labelColor":"#000","labelPadding":1,"labelFlush":false,"labelOverlap":false,"title":null}}}},
 {"data": {"values": [{}]}, "mark": {"type":"rule","opacity":0},
  "encoding": {"y": {"datum":0,"type":"quantitative",
   "axis":{"orient":"right","offset":-538.3,"values":[-1,0,1,2],"labelExpr":"datum.value==1 ? '' : datum.label","domainColor":"#000","domainWidth":2,"tickColor":"#000","tickWidth":1.5,"tickSize":3,"labelFontSize":8,"labelColor":"#000","labelPadding":2,"labelFlush":false,"labelOverlap":false,"title":null}}}},
 {"data": {"values": [{}]}, "mark": {"type":"rule","opacity":0},
  "encoding": {"y": {"datum":0,"type":"quantitative",
   "axis":{"orient":"left","offset":-538.7,"values":[-1,0,1,2],"labels":false,"domain":false,"tickColor":"#000","tickWidth":1.5,"tickSize":3,"title":null}}}}
],
"resolve": {"axis": {"y": "independent"}}
},
{
"width": 1077, "height": 103,
"layer": [
 {"data": {"values": [{}]}, "mark": {"type":"rule","stroke":"#f2efbf","strokeWidth":1},
  "encoding": {"y": {"datum":-0.22,"type":"quantitative",
   "axis":{"orient":"left","values":[0.79,-0.26],"labelExpr":"datum.value > 0.5 ? '+2sd' : 'mn'","domain":false,"ticks":false,"tickSize":0,"labelPadding":20,"labelFontSize":8.5,"labelColor":"#999","labelFlush":false,"labelOverlap":false,"title":null}}}},
 {"data": {"name":"me3"}, "mark": {"type":"area","interpolate":"step","color":"#FFA500","clip":true},
  "encoding": {
   "x": {"field":"pos","type":"quantitative","scale":{"domain":[1314.664,1334.664],"nice":false,"zero":false},"axis":null},
   "y": {"field":"v","type":"quantitative","scale":{"domain":[-1,2],"nice":false,"zero":false},
    "axis":{"orient":"left","values":[-1,0,1,2],"labelExpr":"datum.value==1 ? '' : datum.label","domainColor":"#000","domainWidth":2,"tickColor":"#000","tickWidth":1.5,"tickSize":4,"labelFontSize":8,"labelColor":"#000","labelPadding":1,"labelFlush":false,"labelOverlap":false,"title":"H3K4me3","titleAngle":0,"titleAlign":"right","titleBaseline":"middle","titleX":-58,"titleY":68,"titleFontSize":19.5,"titleFontWeight":"normal","titleColor":"#000"}},
   "y2": {"datum":0}
  }},
 {"data": {"values": [{}]}, "mark": {"type":"rule","stroke":"#87CEEB","strokeWidth":2.5},
  "encoding": {"y": {"datum":0,"type":"quantitative",
   "axis":{"orient":"right","values":[-1,0,1,2],"labelExpr":"datum.value==1 ? '' : datum.label","domainColor":"#000","domainWidth":2,"tickColor":"#000","tickWidth":1.5,"tickSize":4,"labelFontSize":8,"labelColor":"#000","labelPadding":1,"labelFlush":false,"labelOverlap":false,"title":null}}}},
 {"data": {"values": [{}]}, "mark": {"type":"rule","opacity":0},
  "encoding": {"y": {"datum":0,"type":"quantitative",
   "axis":{"orient":"right","offset":-538.3,"values":[-1,0,1,2],"labelExpr":"datum.value==1 ? '' : datum.label","domainColor":"#000","domainWidth":2,"tickColor":"#000","tickWidth":1.5,"tickSize":3,"labelFontSize":8,"labelColor":"#000","labelPadding":2,"labelFlush":false,"labelOverlap":false,"title":null}}}},
 {"data": {"values": [{}]}, "mark": {"type":"rule","opacity":0},
  "encoding": {"y": {"datum":0,"type":"quantitative",
   "axis":{"orient":"left","offset":-538.7,"values":[-1,0,1,2],"labels":false,"domain":false,"tickColor":"#000","tickWidth":1.5,"tickSize":3,"title":null}}}}
],
"resolve": {"axis": {"y": "independent"}}
}
]
}
